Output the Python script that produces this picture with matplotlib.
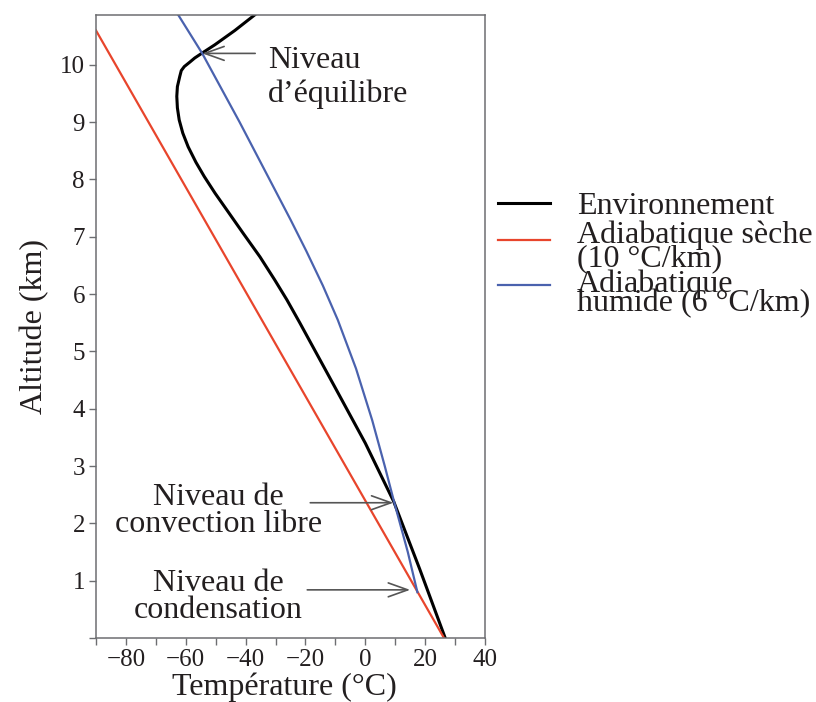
import matplotlib
matplotlib.use("Agg")
import matplotlib.pyplot as plt
from matplotlib.lines import Line2D

# Profils de température (°C) en fonction de l'altitude (km)
env_alt = [0, 1.2, 2.38, 3.4, 4.4, 5.5, 5.9, 6.25, 6.65, 7.06, 7.47, 7.76, 8.05, 8.3,
           8.57, 8.81, 9.04, 9.25, 9.45, 9.62, 9.8, 9.9, 9.97, 10.05, 10.12, 10.2,
           10.35, 10.6, 10.87]
env_temp = [26.7, 18.2, 9.5, 0.0, -10.4, -21.9, -26.2, -30.3, -35.2, -40.8, -46.3, -50.2,
            -53.8, -56.6, -59.2, -61.0, -62.2, -62.8, -63.0, -62.8, -62.0, -61.5, -60.5,
            -58.6, -57.0, -54.7, -50.3, -43.6, -37.0]

dry_alt = [0, 10.6]
dry_temp = [26.3, -90]

moist_alt = [0.8, 1.5, 2.38, 3.0, 3.8, 4.7, 5.55, 6.15, 6.75, 7.3, 8.0, 9.0, 10.2, 10.87]
moist_temp = [17.4, 14.2, 9.6, 6.5, 2.3, -3.1, -9.2, -14.2, -19.7, -25.0, -32.0, -42.0,
              -54.5, -62.5]

x_ticks = list(range(-90, 41, 10))
y_ticks = list(range(0, 11))

plt.rcParams['font.family'] = ['Liberation Serif', 'DejaVu Serif']
txt_color = "#231f20"
grey = "#6d6e71"
W, H = 816, 702

fig = plt.figure(figsize=(W / 100, H / 100), dpi=100)
ax = fig.add_axes([96 / W, 1 - 638 / H, 389 / W, 623 / H])

l_env, = ax.plot(env_temp, env_alt, color="black", lw=2.2)
l_dry, = ax.plot(dry_temp, dry_alt, color="#e8452c", lw=1.6)
l_moist, = ax.plot(moist_temp, moist_alt, color="#4a62ae", lw=1.6)

ax.set_xlim(-90, 40)
ax.set_ylim(0, 10.87)
ax.set_xticks(x_ticks)
ax.set_xticklabels([(str(t).replace("-", "\u2212") if t % 20 == 0 else "") for t in x_ticks])
ax.set_yticks(y_ticks)
ax.set_yticklabels([str(t) if t > 0 else "" for t in y_ticks])
ax.tick_params(direction="out", length=5, width=1, color=grey, labelsize=18,
               labelcolor=txt_color, pad=3)
for s in ax.spines.values():
    s.set_color(grey)
    s.set_linewidth(1.1)

ax.set_xlabel("Température (°C)", fontsize=23, color=txt_color, labelpad=1)
ax.xaxis.label.set_x(0.485)
ax.set_ylabel("Altitude (km)", fontsize=23, color=txt_color, labelpad=8)

# Flèches et annotations
arrow = dict(arrowstyle="->,head_length=1.4,head_width=0.5", color="#555555", lw=1.2,
             shrinkA=0, shrinkB=0)
ax.annotate("", xy=(-54.5, 10.2), xytext=(-36.8, 10.2), arrowprops=arrow)
ax.annotate("", xy=(9.4, 2.36), xytext=(-18.4, 2.36), arrowprops=arrow)
ax.annotate("", xy=(15.0, 0.84), xytext=(-19.4, 0.84), arrowprops=arrow)

# va="baseline" -> ligne du bas
ax.text(-32.4, 9.35, "Niveau\nd\u2019équilibre", fontsize=23, color=txt_color,
        ha="left", va="baseline", linespacing=1.19)
ax.text(-49.2, 1.85, "Niveau de\nconvection libre", fontsize=23, color=txt_color,
        ha="center", va="baseline", linespacing=0.92)
ax.text(-49.2, 0.35, "Niveau de\ncondensation", fontsize=23, color=txt_color,
        ha="center", va="baseline", linespacing=0.9)

# Légende placée à la main (interlignes serrés comme sur l'original)
legend_items = [
    (l_env, "Environnement", 203, 214, 1.0),
    (l_dry, "Adiabatique sèche\n(10 °C/km)", 240, 266, 0.75),
    (l_moist, "Adiabatique\nhumide (6 °C/km)", 285, 311, 0.55),
]
for line, label, y_handle, y_base, lsp in legend_items:
    fig.add_artist(Line2D([498 / W, 550 / W], [1 - y_handle / H, 1 - y_handle / H],
                          transform=fig.transFigure, color=line.get_color(),
                          lw=line.get_linewidth()))
    fig.text(577 / W, 1 - y_base / H, label, fontsize=23, color=txt_color,
             ha="left", va="baseline", linespacing=lsp)

fig.savefig("out.png", dpi=100)
